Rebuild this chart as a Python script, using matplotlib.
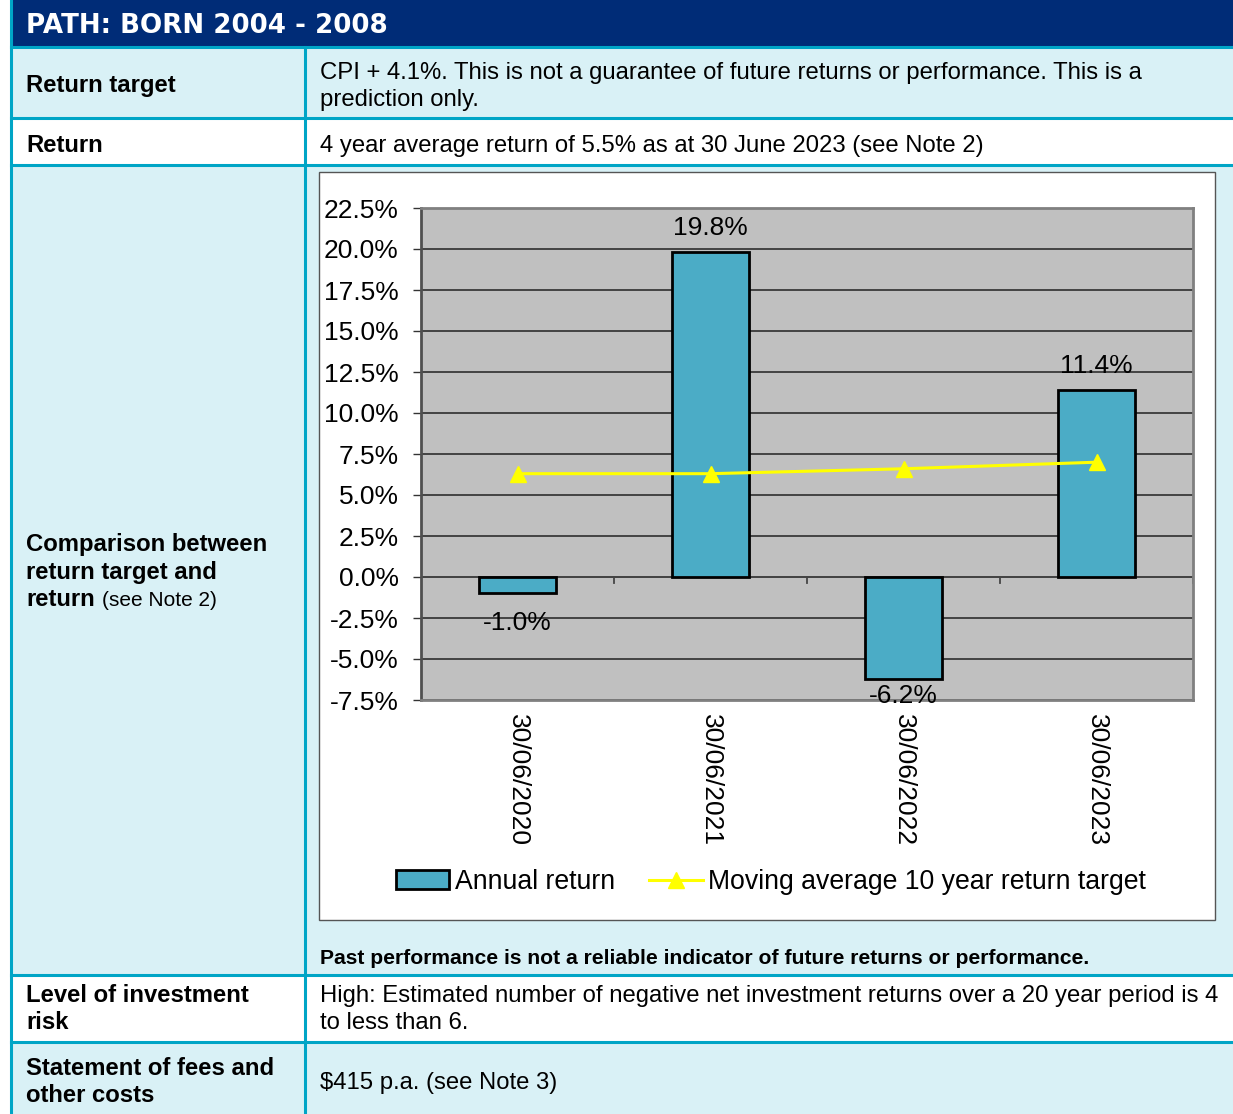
import numpy as np
import matplotlib
matplotlib.use("Agg")
import matplotlib.pyplot as plt
from matplotlib.patches import Rectangle

plt.rcParams["font.family"] = ["Liberation Sans", "DejaVu Sans"]

# ---- data
years = ["30/06/2020", "30/06/2021", "30/06/2022", "30/06/2023"]
annual_return = [-1.0, 19.8, -6.2, 11.4]
target_avg = [6.3, 6.3, 6.6, 7.0]
y_ticks = [-7.5, -5.0, -2.5, 0.0, 2.5, 5.0, 7.5, 10.0, 12.5, 15.0, 17.5, 20.0, 22.5]

title = "PATH: BORN 2004 - 2008"
row_labels = [["Return target"], ["Return"],
              ["Comparison between", "return target and", "return"],
              ["Level of investment", "risk"],
              ["Statement of fees and", "other costs"]]
row_texts = [["CPI + 4.1%. This is not a guarantee of future returns or performance. This is a",
              "prediction only."],
             ["4 year average return of 5.5% as at 30 June 2023 (see Note 2)"],
             [],
             ["High: Estimated number of negative net investment returns over a 20 year period is 4",
              "to less than 6."],
             ["$415 p.a. (see Note 3)"]]
footnote = "Past performance is not a reliable indicator of future returns or performance."

NAVY = "#002c77"
CYAN_BG = "#d9f1f6"
BORDER = "#00a5c6"
BAR = "#4bacc6"

W, H = 1233, 1114
fig = plt.figure(figsize=(W / 100, H / 100), dpi=100)
bg = fig.add_axes([0, 0, 1, 1])
bg.set_xlim(0, W)
bg.set_ylim(H, 0)
bg.axis("off")

# table rows (pixel layout)
row_edges = [47, 118, 165, 975, 1042, 1114]
row_fill = [CYAN_BG, "white", CYAN_BG, "white", CYAN_BG]
bg.add_patch(Rectangle((11, 0), W - 11, 47, color=NAVY, lw=0))
for i, c in enumerate(row_fill):
    bg.add_patch(Rectangle((11, row_edges[i]), W - 11, row_edges[i + 1] - row_edges[i],
                           facecolor=c, lw=0))
for y in row_edges[:-1]:
    bg.plot([11, W], [y, y], color=BORDER, lw=2.2)
bg.plot([11, 11], [0, H], color=BORDER, lw=2.2)
bg.plot([305, 305], [47, H], color=BORDER, lw=2.2)

bg.text(26, 33, title, color="white", fontsize=18.8, fontweight="heavy",
        family="DejaVu Sans")

label_base = [[92], [152], [551, 579, 606], [1002, 1029], [1075, 1102]]
text_base = [[79, 106], [152], [], [1002, 1029], [1089]]
for lines, bases in zip(row_labels, label_base):
    for s, yb in zip(lines, bases):
        bg.text(26, yb, s, fontsize=17.2, fontweight="bold", va="baseline")
bg.text(102, 606, "(see Note 2)", fontsize=15, va="baseline")
for lines, bases in zip(row_texts, text_base):
    for s, yb in zip(lines, bases):
        bg.text(320, yb, s, fontsize=17.2, va="baseline")

# chart frame
bg.add_patch(Rectangle((319, 172), 896, 748, facecolor="white", edgecolor="#555555", lw=1))
bg.text(320, 964, footnote, fontsize=15.2, fontweight="bold", va="baseline")

# ---- chart
ax = fig.add_axes([421 / W, 1 - 700 / H, 772 / W, 492 / H])
ax.set_facecolor("#c0c0c0")
x = np.arange(len(years))
bars = ax.bar(x, annual_return, width=0.4, color=BAR, edgecolor="black", lw=2,
              zorder=3, label="Annual return")
line, = ax.plot(x, target_avg, color="#ffff00", lw=2.2, marker="^", ms=11,
                zorder=4, label="Moving average 10 year return target")
for xi, v in zip(x, annual_return):
    if v >= 0:
        ax.text(xi, v + 0.75, f"{v:.1f}%", ha="center", va="bottom",
                fontsize=19, zorder=5)
    else:
        # keep label inside the plot area, like Excel does
        ax.text(xi, max(v - 1.1, y_ticks[0] + 1.0), f"{v:.1f}%", ha="center",
                va="top", fontsize=19, zorder=5)

ax.set_xlim(-0.5, len(years) - 0.5)
ax.set_ylim(y_ticks[0], y_ticks[-1])
ax.set_yticks(y_ticks)
ax.set_yticklabels([f"{t:.1f}%" for t in y_ticks], fontsize=19)
ax.set_xticks(x)
ax.set_xticklabels(years, rotation=-90, fontsize=19)
ax.tick_params(axis="x", length=0, pad=10)
ax.tick_params(axis="y", length=6, width=1, color="#333333", pad=10)
ax.grid(axis="y", color="#222222", lw=1.1, zorder=1)
ax.axhline(0, color="#444444", lw=1.3, zorder=2)
for b in np.arange(len(years) + 1) - 0.5:
    ax.plot([b, b], [0, -0.35], color="#444444", lw=1.3, zorder=2)
for side, sp in ax.spines.items():
    sp.set_color("#808080")
    sp.set_linewidth(2)
ax.spines["left"].set_color("#505050")

fig.legend(handles=[bars, line], loc="center",
           bbox_to_anchor=(771 / W, 1 - 882 / H), ncol=2, frameon=False,
           fontsize=19.2, handlelength=2.0, handletextpad=0.2, columnspacing=1.3)

fig.savefig("out.png", dpi=100)
